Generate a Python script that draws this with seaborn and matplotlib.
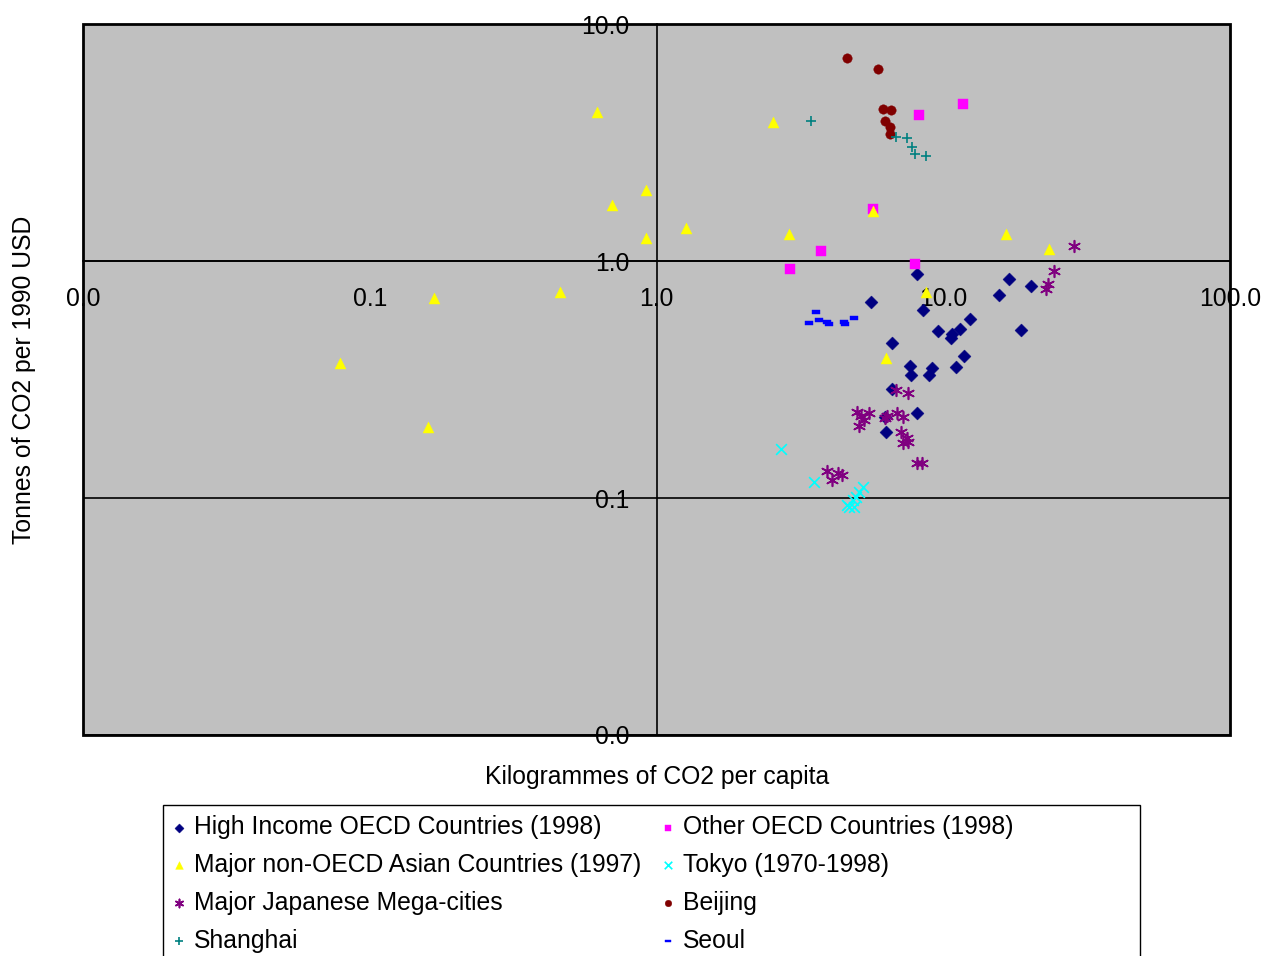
import matplotlib.pyplot as plt
import seaborn as sns
import pandas as pd
import numpy as np
from matplotlib.patches import Rectangle
from matplotlib.path import Path
from matplotlib.ticker import NullLocator


# Data (kg CO2 per capita, tonnes CO2 per 1990 USD)
high_income_x = [8.07, 5.58, 8.53, 16.9, 20.3, 15.7, 12.4, 11.4, 10.7, 10.6, 9.55, 18.7,
                 6.60, 11.8, 11.1, 7.63, 7.69, 9.10, 8.89, 6.60, 8.13, 6.24, 6.34]
high_income_y = [0.881, 0.671, 0.621, 0.839, 0.785, 0.719, 0.569, 0.517, 0.492, 0.473, 0.507, 0.511,
                 0.451, 0.397, 0.357, 0.361, 0.330, 0.354, 0.330, 0.288, 0.228, 0.220, 0.190]

other_oecd_x = [11.7, 8.26, 5.71, 3.76, 2.91, 7.94]
other_oecd_y = [4.60, 4.13, 1.66, 1.10, 0.925, 0.97]

asian_x = [0.62, 0.92, 0.70, 1.27, 0.92, 0.46, 0.168, 0.079, 0.160, 2.54, 2.89, 5.67,
           16.5, 23.3, 8.74, 6.34]
asian_y = [4.25, 1.99, 1.72, 1.38, 1.25, 0.74, 0.70, 0.37, 0.20, 3.86, 1.30, 1.63,
           1.30, 1.12, 0.74, 0.39]

tokyo_x = [2.71, 3.53, 5.23, 5.10, 4.98, 4.83, 4.71, 4.60, 4.90]
tokyo_y = [0.161, 0.117, 0.111, 0.106, 0.101, 0.098, 0.0916, 0.0934, 0.0916]

japan_x = [28.5, 24.4, 23.1, 22.9, 6.87, 7.56, 5.02, 5.49, 5.31, 5.10, 6.24, 6.39, 6.92,
           7.21, 7.15, 7.45, 7.21, 7.52, 8.07, 8.40, 3.92, 4.28, 4.45, 4.08, 5.18]
japan_y = [1.16, 0.908, 0.80, 0.762, 0.286, 0.277, 0.231, 0.228, 0.213, 0.201, 0.218, 0.222, 0.228,
           0.220, 0.190, 0.179, 0.171, 0.172, 0.141, 0.141, 0.130, 0.127, 0.125, 0.119, 0.222]

beijing_x = [4.60, 5.94, 6.14, 6.55, 6.24, 6.50, 6.50]
beijing_y = [7.19, 6.46, 4.38, 4.34, 3.90, 3.68, 3.44]

shanghai_x = [3.47, 6.87, 7.50, 7.75, 8.00, 8.74]
shanghai_y = [3.90, 3.34, 3.30, 3.03, 2.83, 2.77]

seoul_x = [3.61, 3.39, 3.70, 3.92, 3.98, 4.49, 4.56, 4.90]
seoul_y = [0.609, 0.548, 0.564, 0.553, 0.542, 0.553, 0.542, 0.575]

tick_vals_x = [0.01, 0.1, 1, 10, 100]
tick_labels_x = ["0.0", "0.1", "1.0", "10.0", "100.0"]
tick_vals_y = [0.01, 0.1, 1, 10]
tick_labels_y = ["0.0", "0.1", "1.0", "10.0"]


sns.set_style("white")
plt.rcParams['font.family'] = ['Liberation Sans', 'DejaVu Sans']
plt.rcParams['text.color'] = 'black'
plt.rcParams['xtick.color'] = 'black'
plt.rcParams['ytick.color'] = 'black'
fs = 17.8

# short horizontal bar marker for Seoul
dash = Path([(-1, -0.45), (1, -0.45), (1, 0.45), (-1, 0.45), (-1, -0.45)],
            [Path.MOVETO, Path.LINETO, Path.LINETO, Path.LINETO, Path.CLOSEPOLY])

series = [
    ("High Income OECD Countries (1998)", high_income_x, high_income_y, "D", "#000080", 44),
    ("Other OECD Countries (1998)", other_oecd_x, other_oecd_y, "s", "#FF00FF", 49),
    ("Major non-OECD Asian Countries (1997)", asian_x, asian_y, "^", "#FFFF00", 63),
    ("Tokyo (1970-1998)", tokyo_x, tokyo_y, "x", "#00FFFF", 60),
    ("Major Japanese Mega-cities", japan_x, japan_y, (6, 2, 0), "#800080", 70),
    ("Beijing", beijing_x, beijing_y, "o", "#800000", 46),
    ("Shanghai", shanghai_x, shanghai_y, "+", "#008080", 60),
    ("Seoul", seoul_x, seoul_y, dash, "#0000FF", 30),
]

fig = plt.figure(figsize=(12.65, 9.56), dpi=100)
ax = fig.add_axes([83 / 1265, 1 - 735 / 956, 1147 / 1265, 711 / 956])
ax.set_facecolor("#C0C0C0")

for label, xs, ys, mk, col, sz in series:
    df = pd.DataFrame({"x": xs, "y": ys})
    filled = mk not in ("x", "+", (6, 2, 0))
    if filled:
        sns.scatterplot(data=df, x="x", y="y", marker=mk, color=col, s=sz,
                        edgecolor=col, linewidth=0.3, label=label, ax=ax, zorder=3)
    else:
        sns.scatterplot(data=df, x="x", y="y", marker=mk, color=col, s=sz,
                        linewidth=1.2, label=label, ax=ax, zorder=3)

ax.set_xscale("log")
ax.set_yscale("log")
ax.set_xlim(0.01, 100)
ax.set_ylim(0.01, 10)
ax.set_xticks(tick_vals_x)
ax.set_xticklabels(tick_labels_x)
ax.set_yticks(tick_vals_y)
ax.set_yticklabels(tick_labels_y)
ax.xaxis.set_minor_locator(NullLocator())
ax.yaxis.set_minor_locator(NullLocator())
ax.set_xlabel("")
ax.set_ylabel("")

# axes cross in the middle
ax.spines["left"].set_position(("data", 1))
ax.spines["bottom"].set_position(("data", 1))
ax.spines["top"].set_visible(False)
ax.spines["right"].set_visible(False)
for s in ("left", "bottom"):
    ax.spines[s].set_color("black")
    ax.spines[s].set_linewidth(1.2)
ax.tick_params(direction="inout", length=11, width=1, color="black",
               labelsize=fs, labelcolor="black")
ax.tick_params(axis="x", pad=13.5)
ax.tick_params(axis="y", pad=13.8)
ax.grid(axis="y", color="black", linewidth=1.2)
ax.grid(axis="x", visible=False)
ax.add_patch(Rectangle((0, 0), 1, 1, transform=ax.transAxes, fill=False,
                       edgecolor="black", linewidth=2, clip_on=False, zorder=5))

fig.text(657 / 1265, 1 - 777 / 956, "Kilogrammes of CO2 per capita",
         ha="center", va="center", fontsize=fs)
fig.text(24 / 1265, 1 - 380 / 956, "Tonnes of CO2 per 1990 USD",
         ha="center", va="center", rotation=90, fontsize=fs)

# legend, filled row by row like the original
handles, labels = ax.get_legend_handles_labels()
order = [0, 2, 4, 6, 1, 3, 5, 7]
leg = ax.legend([handles[i] for i in order], [labels[i] for i in order],
                ncol=2, loc="upper left", bbox_to_anchor=(172 / 1265, 1 - 815 / 956),
                bbox_transform=fig.transFigure, frameon=False, fontsize=fs,
                markerscale=0.7, handlelength=0.6, handletextpad=0.3,
                columnspacing=0.76, labelspacing=0.56, borderpad=0, borderaxespad=0)
fig.patches.append(Rectangle((163 / 1265, -0.02), (1140 - 163) / 1265, 0.02 + 1 - 805 / 956,
                             transform=fig.transFigure, fill=False, edgecolor="black",
                             linewidth=1, zorder=0))

fig.savefig("out.png", dpi=100)
